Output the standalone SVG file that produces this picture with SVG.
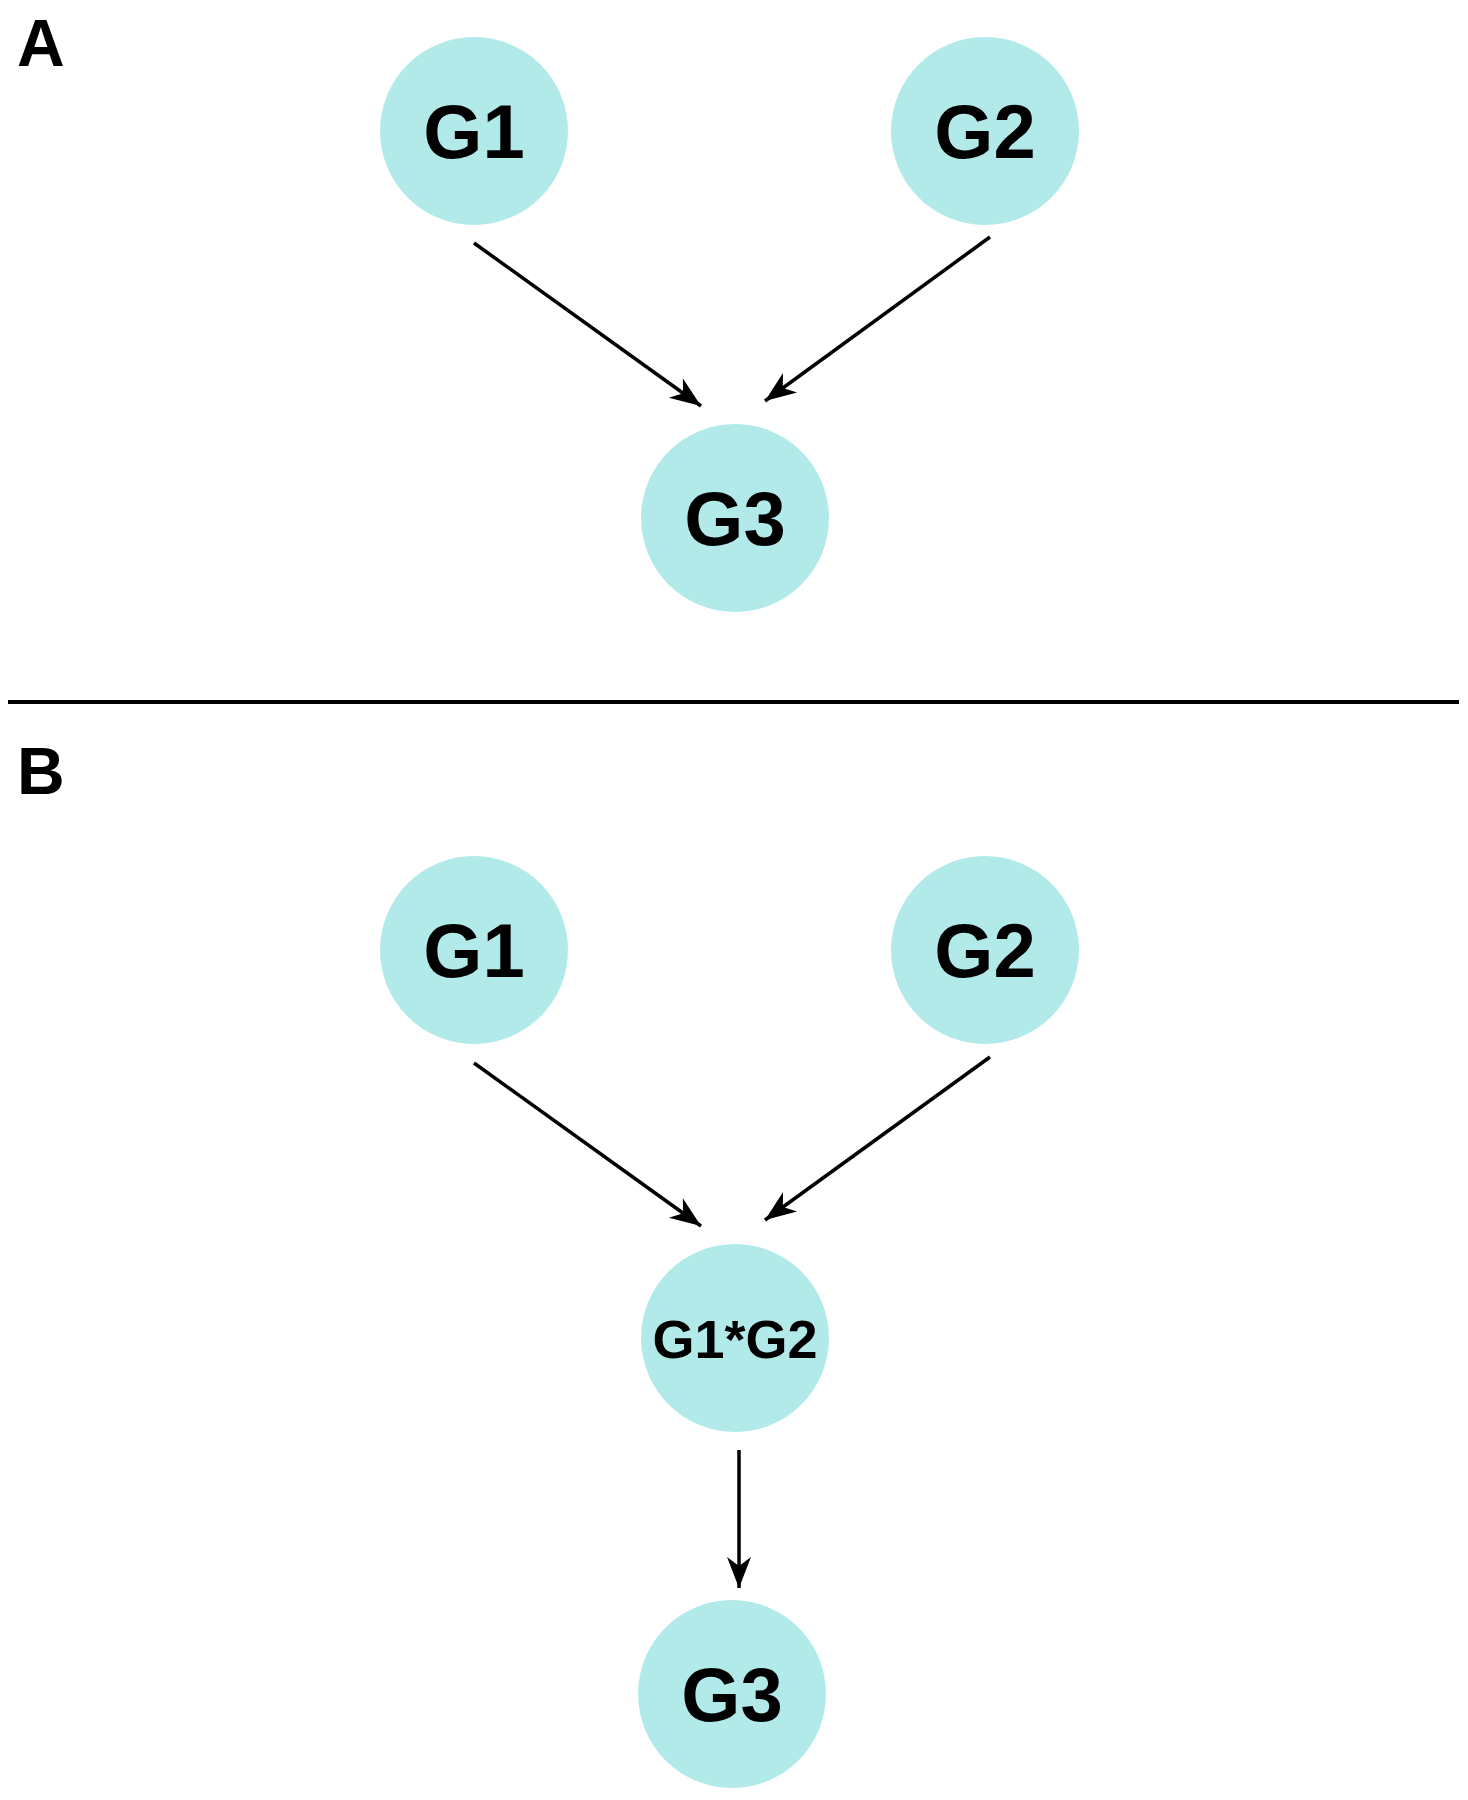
<svg xmlns="http://www.w3.org/2000/svg" width="1468" height="1800" viewBox="0 0 1468 1800">
<style>
.node{fill:#b2eaea}
.lbl{font-family:"Liberation Sans",Arial,sans-serif;font-weight:bold;fill:#000;text-anchor:middle}
.big{font-size:76px}
.mid{font-size:54px}
.panel{font-family:"Liberation Sans",Arial,sans-serif;font-weight:bold;font-size:66px;fill:#000}
.edge{stroke:#000;stroke-width:3.5;fill:none;marker-end:url(#arr)}
</style>
<defs>
<marker id="arr" markerUnits="userSpaceOnUse" viewBox="-34 -14 36 28" refX="0" refY="0" markerWidth="36" markerHeight="28" orient="auto">
<path d="M0,0 L-31,-12 L-22,0 L-31,12 Z" fill="#000"/>
</marker>
</defs>
<rect width="1468" height="1800" fill="#fff"/>
<text class="panel" x="17" y="66">A</text>
<text class="panel" x="17" y="794">B</text>
<line x1="8" y1="702" x2="1459" y2="702" stroke="#000" stroke-width="4"/>
<g id="connectors">
<line class="edge" x1="474" y1="243" x2="701" y2="406"/>
<line class="edge" x1="990" y1="237" x2="765" y2="401"/>
<line class="edge" x1="474" y1="1063" x2="701" y2="1226"/>
<line class="edge" x1="990" y1="1057" x2="765" y2="1220"/>
<line class="edge" x1="739" y1="1450" x2="739" y2="1588"/>
</g>
<g id="A_G1"><circle class="node" cx="474" cy="131" r="94"/><text class="lbl big" x="474" y="158">G1</text></g>
<g id="A_G2"><circle class="node" cx="985" cy="131" r="94"/><text class="lbl big" x="985" y="158">G2</text></g>
<g id="A_G3"><circle class="node" cx="735" cy="518" r="94"/><text class="lbl big" x="735" y="545">G3</text></g>
<g id="B_G1"><circle class="node" cx="474" cy="950" r="94"/><text class="lbl big" x="474" y="977">G1</text></g>
<g id="B_G2"><circle class="node" cx="985" cy="950" r="94"/><text class="lbl big" x="985" y="977">G2</text></g>
<g id="B_G1G2"><circle class="node" cx="735" cy="1338" r="94"/><text class="lbl mid" x="735" y="1358">G1*G2</text></g>
<g id="B_G3"><circle class="node" cx="732" cy="1694" r="94"/><text class="lbl big" x="732" y="1721">G3</text></g>
</svg>
